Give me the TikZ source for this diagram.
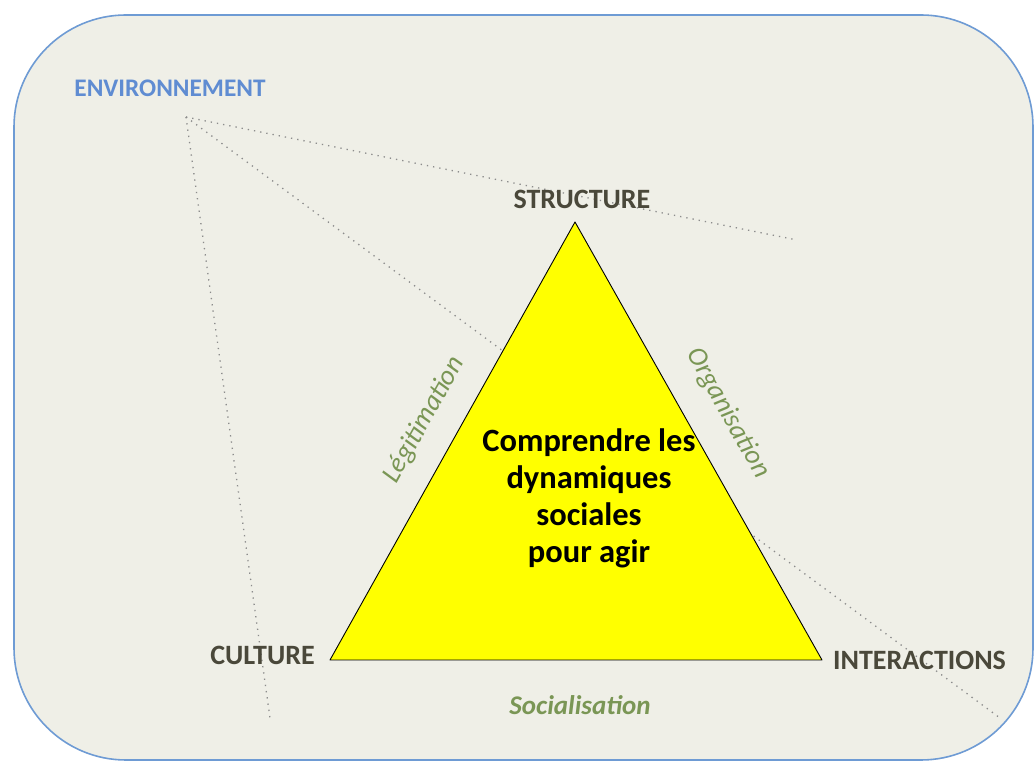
\documentclass[tikz,border=0pt]{standalone}
\usepackage{fontspec}
\setmainfont{Carlito}
\usetikzlibrary{positioning}
\definecolor{boxfill}{RGB}{239,239,231}
\definecolor{boxline}{RGB}{110,155,212}
\definecolor{envblue}{RGB}{95,140,210}
\definecolor{labdark}{RGB}{74,72,58}
\definecolor{axisgreen}{RGB}{122,150,85}
\definecolor{dotgray}{RGB}{140,140,140}
\definecolor{triyellow}{RGB}{255,255,0}
\tikzset{frame/.style={draw=boxline,line width=1.6pt,fill=boxfill,rounded corners=112pt}}
\tikzset{pole/.style={inner sep=0pt,text=labdark,font=\fontsize{28}{33}\selectfont\bfseries}}
\tikzset{axis/.style={inner sep=0pt,text=axisgreen,font=\fontsize{27.5}{33}\selectfont\itshape}}
\tikzset{link/.style={draw=dotgray,line width=1.3pt,dash pattern=on 1.3pt off 5pt}}
\tikzset{tri/.style={draw=black,line width=0.9pt,fill=triyellow,line join=round}}

\begin{document}
\begin{tikzpicture}[x=1pt,y=1pt]
    \useasboundingbox[fill=white] (0,0) rectangle (1034,763);
    \path[frame] (14,748) rectangle (1033,3);

    % environnement
    \node[pole,text=envblue,font=\fontsize{25.3}{30}\selectfont\bfseries] (env) at (170,675) {ENVIRONNEMENT};
    \coordinate (e) at (186,646);
    \coordinate (e1) at (797,523);
    \coordinate (e2) at (1000,45);
    \coordinate (e3) at (270,45);
        \path[link] (e) -- (e1);
        \path[link] (e) -- (e2);
        \path[link] (e) -- (e3);

    % triangle
    \coordinate (s) at (575,541);
    \coordinate (c) at (330,103);
    \coordinate (i) at (822,103);
        \path[tri] (s) -- (c) -- (i) -- cycle;

    \node[pole,above=13pt of s,xshift=7pt] (struct) {STRUCTURE};
    \node[pole,left=15pt of c,yshift=5pt] (cult) {CULTURE};
    \node[pole,right=11pt of i] (inter) {INTERACTIONS};

    \node[axis,rotate=60.8] (legit) at (424,343) {Légitimation};
    \node[axis,rotate=-60.6] (orga) at (728,350) {Organisation};
    \node[axis,font=\fontsize{27}{32}\selectfont\bfseries\itshape] (social) at (580,58) {Socialisation};

    \node[align=center,inner sep=0pt,text=black,font=\fontsize{32.5}{37}\selectfont\bfseries] (centre) at (589,265)
        {Comprendre les\\dynamiques\\sociales\\pour agir};
\end{tikzpicture}
\end{document}
